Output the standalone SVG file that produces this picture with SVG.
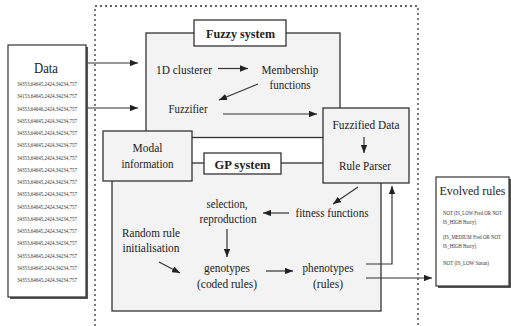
<svg xmlns="http://www.w3.org/2000/svg" width="511" height="326" viewBox="0 0 511 326" font-family="'Liberation Serif', 'Times New Roman', 'DejaVu Serif', serif">
<defs>
<marker id="ah" viewBox="0 0 10 8" refX="10" refY="4" markerWidth="8" markerHeight="6.4" markerUnits="userSpaceOnUse" orient="auto">
<path d="M0,0 L10,4 L0,8 z" fill="#222"/>
</marker>
<style>
.box{fill:#f3f3f3;stroke:#333;stroke-width:1.3}
.lbl{fill:#fff;stroke:#333;stroke-width:1.3}
.plain{fill:#fff;stroke:#333;stroke-width:1.2}
.shadow{fill:#555}
text{font-family:'Liberation Serif','Times New Roman','DejaVu Serif',serif}
.t{font-size:13.5px;fill:#222;text-anchor:middle}
.big{font-size:15.5px}
.ev{font-size:13px}
.b{font-weight:bold}
.d{font-size:6px;fill:#333;text-anchor:middle}
.r{font-size:5.5px;fill:#333}
.c{stroke:#333;stroke-width:1.2;fill:none;marker-end:url(#ah)}
.frame{stroke:#333;stroke-width:1.3;stroke-dasharray:2 3;fill:none}
</style>
</defs>
<rect width="511" height="326" fill="#fff"/>

<path class="frame" d="M95,326 V6 H418 V326"/>

<g id="data">
<rect class="shadow" x="10" y="47" width="78" height="252"/>
<rect class="plain" x="8" y="45" width="78" height="252"/>
<text class="t big" x="46" y="73" textLength="24" lengthAdjust="spacingAndGlyphs">Data</text>
<text class="d" x="47" y="86" textLength="60" lengthAdjust="spacingAndGlyphs">34353,64645,2424,34234,757</text>
<text class="d" x="47" y="98.25" textLength="60" lengthAdjust="spacingAndGlyphs">34153,64645,2424,34234,757</text>
<text class="d" x="47" y="110.5" textLength="60" lengthAdjust="spacingAndGlyphs">34353,64646,2424,34234,757</text>
<text class="d" x="47" y="122.75" textLength="60" lengthAdjust="spacingAndGlyphs">34353,64645,2424,34234,757</text>
<text class="d" x="47" y="135" textLength="60" lengthAdjust="spacingAndGlyphs">34353,64645,2424,34234,757</text>
<text class="d" x="47" y="147.25" textLength="60" lengthAdjust="spacingAndGlyphs">34353,64645,2424,34234,757</text>
<text class="d" x="47" y="159.5" textLength="60" lengthAdjust="spacingAndGlyphs">34353,64645,2424,34234,757</text>
<text class="d" x="47" y="171.75" textLength="60" lengthAdjust="spacingAndGlyphs">34353,64645,2424,34234,757</text>
<text class="d" x="47" y="184" textLength="60" lengthAdjust="spacingAndGlyphs">34353,64645,2424,34234,757</text>
<text class="d" x="47" y="196.25" textLength="60" lengthAdjust="spacingAndGlyphs">34353,64645,2424,34234,757</text>
<text class="d" x="47" y="208.5" textLength="60" lengthAdjust="spacingAndGlyphs">34353,64645,2424,34234,757</text>
<text class="d" x="47" y="220.75" textLength="60" lengthAdjust="spacingAndGlyphs">34353,64645,2424,34234,757</text>
<text class="d" x="47" y="233" textLength="60" lengthAdjust="spacingAndGlyphs">34353,64645,2424,34234,757</text>
<text class="d" x="47" y="245.25" textLength="60" lengthAdjust="spacingAndGlyphs">34353,64645,2424,34234,757</text>
<text class="d" x="47" y="257.5" textLength="60" lengthAdjust="spacingAndGlyphs">34353,64645,2424,34234,757</text>
<text class="d" x="47" y="269.75" textLength="60" lengthAdjust="spacingAndGlyphs">34353,64645,2424,34234,757</text>
<text class="d" x="47" y="282" textLength="60" lengthAdjust="spacingAndGlyphs">34353,64645,2424,34234,757</text>
</g>

<g id="fuzzy-system">
<rect class="box" x="146" y="33" width="194" height="104.5"/>
</g>
<g id="gp-system">
<rect class="box" x="112" y="163" width="269" height="148"/>
</g>

<g id="modal">
<rect class="box" x="103" y="131" width="89" height="50"/>
<text class="t" x="147.5" y="152" textLength="30" lengthAdjust="spacingAndGlyphs">Modal</text>
<text class="t" x="147.5" y="168" textLength="52" lengthAdjust="spacingAndGlyphs">information</text>
</g>

<g id="fuzzified-data">
<rect class="box" x="323" y="108" width="86" height="75"/>
<text class="t" x="366" y="129" textLength="67" lengthAdjust="spacingAndGlyphs">Fuzzified Data</text>
<text class="t" x="365" y="170" textLength="52" lengthAdjust="spacingAndGlyphs">Rule Parser</text>
</g>

<g id="fuzzy-label">
<rect class="lbl" x="194" y="20" width="92" height="26"/>
<text class="t b" x="240.5" y="38" textLength="69" lengthAdjust="spacingAndGlyphs">Fuzzy system</text>
</g>
<g id="gp-label">
<rect class="lbl" x="204" y="153" width="77" height="21"/>
<text class="t b" x="242.5" y="169" textLength="56" lengthAdjust="spacingAndGlyphs">GP system</text>
</g>

<g id="clusterer">
<text class="t" x="184" y="74" textLength="56" lengthAdjust="spacingAndGlyphs">1D clusterer</text>
</g>
<g id="membership">
<text class="t" x="290" y="74" textLength="57" lengthAdjust="spacingAndGlyphs">Membership</text>
<text class="t" x="290" y="89" textLength="41" lengthAdjust="spacingAndGlyphs">functions</text>
</g>
<g id="fuzzifier">
<text class="t" x="188" y="113" textLength="39" lengthAdjust="spacingAndGlyphs">Fuzzifier</text>
</g>
<g id="selection">
<text class="t" x="227" y="208" textLength="41" lengthAdjust="spacingAndGlyphs">selection,</text>
<text class="t" x="228" y="223" textLength="57" lengthAdjust="spacingAndGlyphs">reproduction</text>
</g>
<g id="fitness">
<text class="t" x="332" y="217" textLength="73" lengthAdjust="spacingAndGlyphs">fitness functions</text>
</g>
<g id="random">
<text class="t" x="151" y="237" textLength="58" lengthAdjust="spacingAndGlyphs">Random rule</text>
<text class="t" x="151" y="252" textLength="57" lengthAdjust="spacingAndGlyphs">initialisation</text>
</g>
<g id="genotypes">
<text class="t" x="227" y="272" textLength="46" lengthAdjust="spacingAndGlyphs">genotypes</text>
<text class="t" x="227" y="288" textLength="60" lengthAdjust="spacingAndGlyphs">(coded rules)</text>
</g>
<g id="phenotypes">
<text class="t" x="328" y="272" textLength="51" lengthAdjust="spacingAndGlyphs">phenotypes</text>
<text class="t" x="328" y="288" textLength="30" lengthAdjust="spacingAndGlyphs">(rules)</text>
</g>

<g id="evolved-rules">
<rect class="shadow" x="438" y="179" width="73" height="109"/>
<rect class="plain" x="436" y="177" width="73" height="109"/>
<text class="t ev" x="472.5" y="195" textLength="66" lengthAdjust="spacingAndGlyphs">Evolved rules</text>
<text class="r" x="443" y="215" textLength="59" lengthAdjust="spacingAndGlyphs">NOT (IS_LOW Fred OR NOT</text>
<text class="r" x="443" y="224" textLength="33" lengthAdjust="spacingAndGlyphs">IS_HIGH Harry)</text>
<text class="r" x="443" y="239" textLength="58" lengthAdjust="spacingAndGlyphs">(IS_MEDIUM Fred OR NOT</text>
<text class="r" x="443" y="248" textLength="33" lengthAdjust="spacingAndGlyphs">IS_HIGH Harry)</text>
<text class="r" x="443" y="265" textLength="46" lengthAdjust="spacingAndGlyphs">NOT (IS_LOW Susan)</text>
</g>

<g id="connectors">
<path class="c" d="M88,63 H138"/>
<path class="c" d="M88,108 H138"/>
<path class="c" d="M218,68.5 H248"/>
<path class="c" d="M258,84 L219,100"/>
<path class="c" d="M223,114 H317"/>
<path class="c" d="M364,137 V153"/>
<path class="c" d="M358,187 L333,204"/>
<path class="c" d="M289,213 H263"/>
<path class="c" d="M227,229 V257"/>
<path class="c" d="M159,262 L180,273"/>
<path class="c" d="M266,271 H293"/>
<path class="c" d="M366,264 H392 V186"/>
<path class="c" d="M366,278 H432"/>
</g>
</svg>
